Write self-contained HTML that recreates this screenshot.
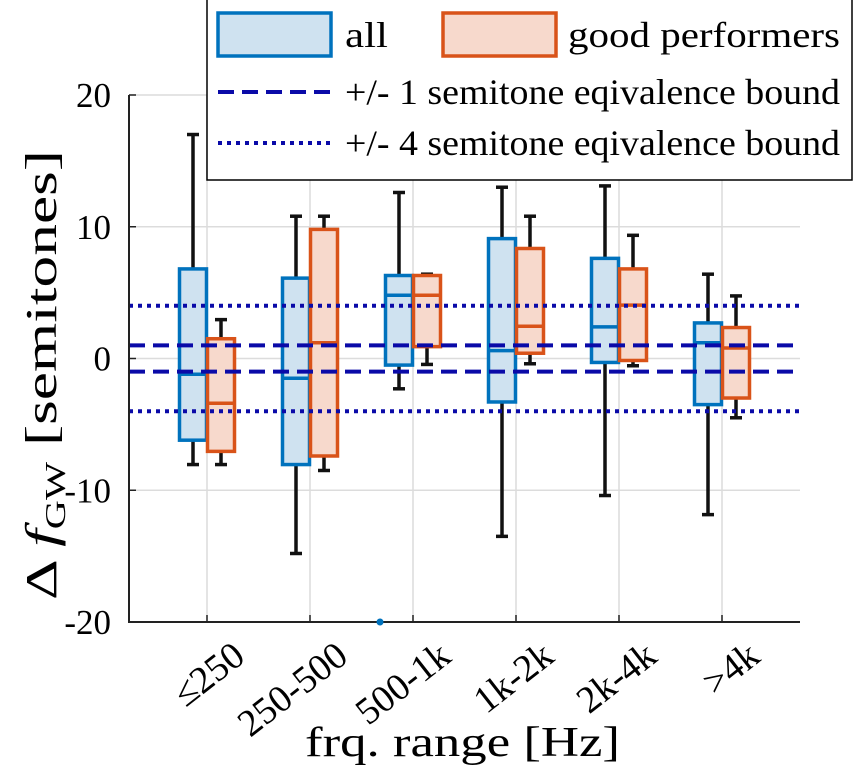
<!DOCTYPE html>
<html><head><meta charset="utf-8"><style>
body{margin:0;background:#fff}
svg{display:block;font-family:"Liberation Serif",serif}
</style></head><body>
<svg id="chart" width="856" height="769" viewBox="0 0 856 769">
<g id="grid"></g>
<g id="boxes"></g>
<g id="refs"></g>
<g id="axes"></g>
<text x="305" y="756" font-size="42" textLength="315" lengthAdjust="spacingAndGlyphs">frq. range [Hz]</text>
<text transform="translate(56,600) rotate(-90)" font-size="44" textLength="450" lengthAdjust="spacingAndGlyphs">Δ <tspan font-style="italic">f</tspan><tspan font-size="28" dy="9">GW</tspan><tspan dy="-9"> [semitones]</tspan></text>
<circle cx="380" cy="622" r="3.5" fill="#0072bd"/>
<g>
<rect x="207" y="-1" width="645" height="181" fill="#fff" stroke="#000" stroke-width="1.5"/>
<rect x="218" y="13" width="113" height="43" fill="#cfe2f0" stroke="#0072bd" stroke-width="3.5"/>
<text x="345" y="47" font-size="36" textLength="43" lengthAdjust="spacingAndGlyphs">all</text>
<rect x="443" y="13" width="113" height="43" fill="#f7d9cc" stroke="#d95319" stroke-width="3.5"/>
<text x="568" y="47" font-size="36" textLength="272" lengthAdjust="spacingAndGlyphs">good performers</text>
<line x1="218" y1="92" x2="331" y2="92" stroke="#0a0aa8" stroke-width="4" stroke-dasharray="16,8"/>
<text x="345" y="104" font-size="36" textLength="495" lengthAdjust="spacingAndGlyphs">+/- 1 semitone eqivalence bound</text>
<line x1="218" y1="143" x2="331" y2="143" stroke="#0a0aa8" stroke-width="4" stroke-dasharray="4,5"/>
<text x="345" y="155" font-size="36" textLength="495" lengthAdjust="spacingAndGlyphs">+/- 4 semitone eqivalence bound</text>
</g>
</svg>
<script>
const categories=["≤250","250-500","500-1k","1k-2k","2k-4k",">4k"];
const allWhiskerHigh=[17.0,10.8,12.6,13.0,13.1,6.4];
const allQ3=[6.8,6.1,6.3,9.1,7.6,2.7];
const allMedian=[-1.2,-1.5,4.8,0.6,2.4,1.2];
const allQ1=[-6.2,-8.05,-0.5,-3.3,-0.3,-3.5];
const allWhiskerLow=[-8.05,-14.8,-2.3,-13.5,-10.4,-11.85];
const goodWhiskerHigh=[2.95,10.8,6.4,10.8,9.35,4.75];
const goodQ3=[1.5,9.8,6.3,8.35,6.8,2.35];
const goodMedian=[-3.4,1.2,4.8,2.45,4.05,0.8];
const goodQ1=[-7.05,-7.4,0.9,0.4,-0.15,-3.0];
const goodWhiskerLow=[-8.05,-8.5,-0.45,-0.4,-0.55,-4.5];
const yTicks=[-20,-10,0,10,20];
const refDashed=[1,-1];
const refDotted=[4,-4];

const NS="http://www.w3.org/2000/svg";
const L=129,R=800,T=95,B=622;
const y=v=>358.5-v*(B-T)/40;
const x=i=>207+103*i;
function mk(parent,tag,attrs){const e=document.createElementNS(NS,tag);for(const k in attrs)e.setAttribute(k,attrs[k]);document.getElementById(parent).appendChild(e);return e;}
yTicks.forEach(t=>{
  const g=mk('grid','line',{x1:L,x2:R,y1:y(t),y2:y(t),stroke:'#dcdcdc','stroke-width':1.5});
  
  
  const tk=mk('axes','line',{x1:L,x2:L+7,y1:y(t),y2:y(t),stroke:'#222','stroke-width':1.5});
  
  
  const lb=mk('axes','text',{x:L-18,y:y(t)+12,'font-size':35,'text-anchor':'end'});
  lb.textContent=t;
  
  
});
categories.forEach((c,i)=>{
  const g=mk('grid','line',{x1:x(i),x2:x(i),y1:T,y2:B,stroke:'#dcdcdc','stroke-width':1.5});
  
  
  const tk=mk('axes','line',{x1:x(i),x2:x(i),y1:B,y2:B-7,stroke:'#222','stroke-width':1.5});
  
  
  const lb=mk('axes','text',{transform:`translate(${x(i)+40},${B+38}) rotate(-38)`,'font-size':38,'text-anchor':'end'});
  lb.textContent=c;
  
  
});
const ax=mk('axes','path',{d:`M${L},${T} L${L},${B} L${R},${B}`,fill:'none',stroke:'#222','stroke-width':2});



function box(i,off,hi,q3,md,q1,lo,edge,fill,name){
  const cx=x(i)+off,w=27;
  const wl=mk('boxes','line',{x1:cx,x2:cx,y1:y(hi),y2:y(lo),stroke:'#111','stroke-width':3.5});
  
  
  [hi,lo].forEach(v=>{
    const cap=mk('boxes','line',{x1:cx-6,x2:cx+6,y1:y(v),y2:y(v),stroke:'#111','stroke-width':3.5});
    
    
  });
  const r=mk('boxes','rect',{x:cx-w/2,y:y(q3),width:w,height:y(q1)-y(q3),fill:fill,stroke:edge,'stroke-width':3.5});
  
  
  const m=mk('boxes','line',{x1:cx-w/2,x2:cx+w/2,y1:y(md),y2:y(md),stroke:edge,'stroke-width':3.5});
  
  
}
categories.forEach((c,i)=>{
  box(i,-14,allWhiskerHigh[i],allQ3[i],allMedian[i],allQ1[i],allWhiskerLow[i],'#0072bd','#cfe2f0','all');
  box(i,14,goodWhiskerHigh[i],goodQ3[i],goodMedian[i],goodQ1[i],goodWhiskerLow[i],'#d95319','#f7d9cc','good');
});
refDashed.forEach(v=>{
  const l=mk('refs','line',{x1:L,x2:R,y1:y(v),y2:y(v),stroke:'#0a0aa8','stroke-width':4,'stroke-dasharray':'16,8'});
  
  
});
refDotted.forEach(v=>{
  const l=mk('refs','line',{x1:L,x2:R,y1:y(v),y2:y(v),stroke:'#0a0aa8','stroke-width':4,'stroke-dasharray':'4,5'});
  
  
});
</script>
</body></html>
